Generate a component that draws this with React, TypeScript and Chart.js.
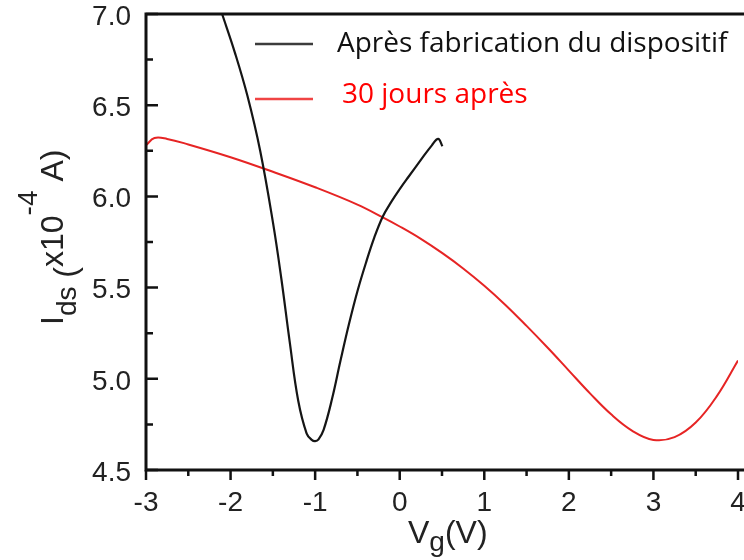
import { useEffect, useRef } from "react";
import { Chart, registerables } from "chart.js";

Chart.register(...registerables);

// Black curve: "Après fabrication du dispositif"
const blackVg = [-2.1, -1.95, -1.8, -1.65, -1.5, -1.4, -1.3, -1.2, -1.1, -1.04, -1.0, -0.96, -0.9, -0.8, -0.7, -0.6, -0.5, -0.4, -0.3, -0.2, -0.1, 0.0, 0.1, 0.25, 0.38, 0.455, 0.505];
const blackIds = [7.0, 6.79, 6.55, 6.25, 5.86, 5.55, 5.2, 4.88, 4.7, 4.665, 4.658, 4.668, 4.72, 4.89, 5.1, 5.3, 5.48, 5.635, 5.775, 5.89, 5.97, 6.04, 6.105, 6.2, 6.28, 6.315, 6.275];

// Red curve: "30 jours après"
const redVg = [-3.0, -2.9, -2.75, -2.5, -2.0, -1.5, -1.0, -0.5, -0.2, 0.0, 0.25, 0.5, 0.75, 1.0, 1.25, 1.5, 1.75, 2.0, 2.25, 2.5, 2.75, 3.0, 3.25, 3.5, 3.75, 4.0];
const redIds = [6.28, 6.32, 6.315, 6.285, 6.215, 6.135, 6.05, 5.955, 5.885, 5.835, 5.767, 5.69, 5.605, 5.51, 5.405, 5.29, 5.17, 5.045, 4.92, 4.805, 4.715, 4.665, 4.68, 4.76, 4.905, 5.1];

const seriesLabels = ["Après fabrication du dispositif", "30 jours après"];
const seriesColors = ["#151515", "#e62424"];
const legendLineColors = ["#3c3c3c", "#f04444"];
const legendTextColors = ["#111111", "#ff0000"];

const xMin = -3, xMax = 4, xMajor = 1, xMinor = 0.5;
const yMin = 4.5, yMax = 7.0, yMajor = 0.5, yMinor = 0.25;

const AX_FONT = "'Liberation Sans', Arial, sans-serif";
const LEG_FONT = "'Open Sans', Lato, sans-serif";

const framePlugin = {
  id: "frame",
  afterDraw(chart: any) {
    const { ctx, chartArea } = chart;
    const xs = chart.scales.x;
    const ys = chart.scales.y;
    const L = chartArea.left, T = chartArea.top, B = chartArea.bottom;
    const W = chart.width;
    ctx.save();
    ctx.strokeStyle = "#111";
    ctx.lineWidth = 3;
    ctx.beginPath();
    ctx.moveTo(L - 1.5, T);
    ctx.lineTo(W, T);
    ctx.moveTo(L, T);
    ctx.lineTo(L, B);
    ctx.moveTo(L - 1.5, B);
    ctx.lineTo(W, B);
    ctx.stroke();

    ctx.lineWidth = 2.5;
    ctx.beginPath();
    const nY = Math.round((yMax - yMin) / yMinor);
    for (let i = 0; i <= nY; i++) {
      const v = yMin + i * yMinor;
      const py = ys.getPixelForValue(v);
      const major = i % Math.round(yMajor / yMinor) === 0;
      ctx.moveTo(L, py);
      ctx.lineTo(L + (major ? 12 : 7), py);
    }
    const nX = Math.round((xMax - xMin) / xMinor);
    for (let i = 0; i <= nX; i++) {
      const v = xMin + i * xMinor;
      const px = xs.getPixelForValue(v);
      const major = i % Math.round(xMajor / xMinor) === 0;
      ctx.moveTo(px, B);
      ctx.lineTo(px, B + (major ? 10 : 6));
    }
    ctx.stroke();

    // Legend
    const legendY = [44, 99];
    const textX = [337, 342];
    const textBase = [52, 103];
    for (let i = 0; i < seriesLabels.length; i++) {
      ctx.strokeStyle = legendLineColors[i];
      ctx.lineWidth = 2.5;
      ctx.beginPath();
      ctx.moveTo(255, legendY[i]);
      ctx.lineTo(313, legendY[i]);
      ctx.stroke();
      ctx.fillStyle = legendTextColors[i];
      ctx.font = `28px ${LEG_FONT}`;
      ctx.textAlign = "left";
      ctx.textBaseline = "alphabetic";
      ctx.fillText(seriesLabels[i], textX[i], textBase[i]);
    }

    // Y axis title: I_ds (x10^-4 A), rotated
    ctx.fillStyle = "#222";
    ctx.textAlign = "left";
    ctx.textBaseline = "alphabetic";
    ctx.translate(63, 325);
    ctx.rotate(-Math.PI / 2);
    const segs: [string, number, number][] = [
      ["I", 32, 0],
      ["ds", 28, 13],
      [" (", 32, 13],
      ["x10", 32, 0],
      ["-4", 28, -26],
      [" A)", 32, 0],
    ];
    let u = 0;
    for (const [t, fs, dv] of segs) {
      ctx.font = `${fs}px ${AX_FONT}`;
      ctx.fillText(t, u, dv);
      u += ctx.measureText(t).width;
    }
    ctx.setTransform(1, 0, 0, 1, 0, 0);

    // X axis title: V_g(V)
    const xsegs: [string, number, number][] = [
      ["V", 32, 0],
      ["g", 28, 8],
      ["(V)", 32, 0],
    ];
    let xx = 408;
    for (const [t, fs, dv] of xsegs) {
      ctx.font = `${fs}px ${AX_FONT}`;
      ctx.fillText(t, xx, 543 + dv);
      xx += ctx.measureText(t).width;
    }
    ctx.restore();
  },
};

export default function App() {
  const ref = useRef<HTMLCanvasElement | null>(null);
  useEffect(() => {
    if (!ref.current) return;
    const chart = new Chart(ref.current, {
      type: "line",
      data: {
        datasets: [
          {
            label: seriesLabels[0],
            data: blackVg.map((v, i) => ({ x: v, y: blackIds[i] })),
            borderColor: seriesColors[0],
            borderWidth: 2.2,
            pointRadius: 0,
            tension: 0.4,
            fill: false,
          },
          {
            label: seriesLabels[1],
            data: redVg.map((v, i) => ({ x: v, y: redIds[i] })),
            borderColor: seriesColors[1],
            borderWidth: 2,
            pointRadius: 0,
            tension: 0.4,
            fill: false,
          },
        ],
      },
      options: {
        responsive: false,
        animation: false,
        events: [],
        layout: { padding: { top: 14, right: 6, left: 0, bottom: 0 } },
        plugins: { legend: { display: false }, tooltip: { enabled: false }, title: { display: false } },
        scales: {
          x: {
            type: "linear",
            min: xMin,
            max: xMax,
            grid: { display: false, drawTicks: false },
            border: { display: false },
            ticks: {
              stepSize: xMajor,
              padding: 16,
              color: "#222",
              font: { family: AX_FONT, size: 28 },
              maxRotation: 0,
              callback: (v: any) => String(v),
            },
            afterFit: (s: any) => {
              s.height = 90;
              s.paddingLeft = 0;
              s.paddingRight = 0;
            },
          },
          y: {
            type: "linear",
            min: yMin,
            max: yMax,
            grid: { display: false, drawTicks: false },
            border: { display: false },
            ticks: {
              stepSize: yMajor,
              padding: 15,
              labelOffset: 3,
              color: "#222",
              font: { family: AX_FONT, size: 28 },
              callback: (v: any) => Number(v).toFixed(1),
            },
            afterFit: (s: any) => {
              s.width = 146;
              s.paddingTop = 0;
              s.paddingBottom = 0;
            },
          },
        },
      },
      plugins: [framePlugin],
    });
    return () => chart.destroy();
  }, []);
  return (
    <div style={{ position: "absolute", left: 0, top: 0, width: 744, height: 560, background: "#fff" }}>
      <canvas ref={ref} width={744} height={560} style={{ display: "block" }} />
    </div>
  );
}
